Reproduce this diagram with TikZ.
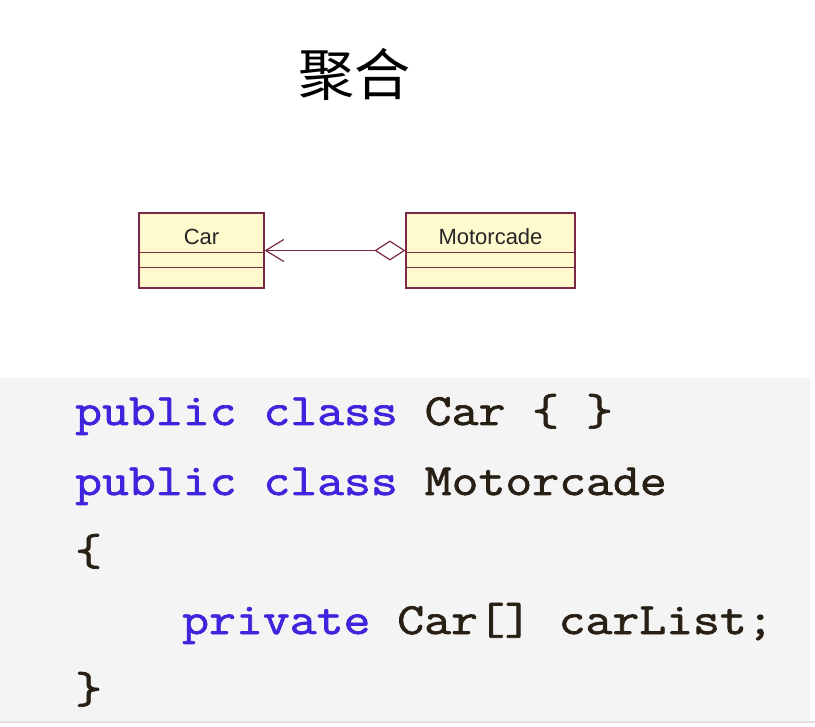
\documentclass[tikz,border=0pt]{standalone}
\usepackage{fontspec}
\setsansfont{Liberation Sans}
\setmonofont{Latin Modern Mono}[FakeStretch=1.168, FakeBold=1.6]
\newfontfamily\cjk{Noto Sans CJK SC}
\usetikzlibrary{arrows.meta}

\definecolor{umlline}{RGB}{122,42,72}
\definecolor{umlfill}{RGB}{255,250,205}
\definecolor{codebg}{RGB}{244,244,244}
\definecolor{kw}{RGB}{62,36,220}
\definecolor{plain}{RGB}{40,32,20}

\tikzset{
	classbox/.style = {draw=umlline, fill=umlfill, line width=1.2pt, minimum height=75pt, inner sep=0pt},
	classname/.style = {font=\sffamily\fontsize{22}{22}\selectfont, text=black!85, anchor=center},
	codeline/.style = {font=\ttfamily\fontsize{44.7}{44.7}\selectfont, text=plain, anchor=base west, inner sep=0pt},
}

\begin{document}
\begin{tikzpicture}[x=1pt, y=-1pt]
		\useasboundingbox (0,0) rectangle (815,727);
		\node[font=\cjk\fontsize{56}{56}\selectfont] (title) at (354,74) {聚合};

		% class boxes
		\node[classbox, minimum width=125pt] (car) at (201.5,250.5) {};
		\node[classbox, minimum width=169pt] (motor) at (490.5,250.5) {};
		\node[classname] (carname) at (car.north |- 0,237) {Car};
		\node[classname] (motorname) at (motor.north |- 0,237) {Motorcade};
		\draw[umlline, line width=1.2pt] (car.north west) ++(0,40) -- ++(125,0);
		\draw[umlline, line width=1.2pt] (car.north west) ++(0,55) -- ++(125,0);
		\draw[umlline, line width=1.2pt] (motor.north west) ++(0,40) -- ++(169,0);
		\draw[umlline, line width=1.2pt] (motor.north west) ++(0,55) -- ++(169,0);
		\draw[umlline, line width=1.2pt, {Straight Barb[length=18pt, width=22pt]}-{Diamond[open, length=31pt, width=20pt, fill=white]}] (car.east) -- (motor.west);

		% code
		\fill[codebg] (0,378) rectangle (810,721);
		\draw[black!12, line width=1.5pt] (0,722) -- (815,722);
		\node[codeline] (line1) at (75,425) {\textcolor{kw}{public class} Car \{ \}};
		\node[codeline] (line2) at (75,495) {\textcolor{kw}{public class} Motorcade};
		\node[codeline] (line3) at (75,565) {\{};
		\node[codeline] (line4) at (182,634) {\textcolor{kw}{private} Car[] carList;};
		\node[codeline] (line5) at (75,703) {\}};
	\end{tikzpicture}
\end{document}
